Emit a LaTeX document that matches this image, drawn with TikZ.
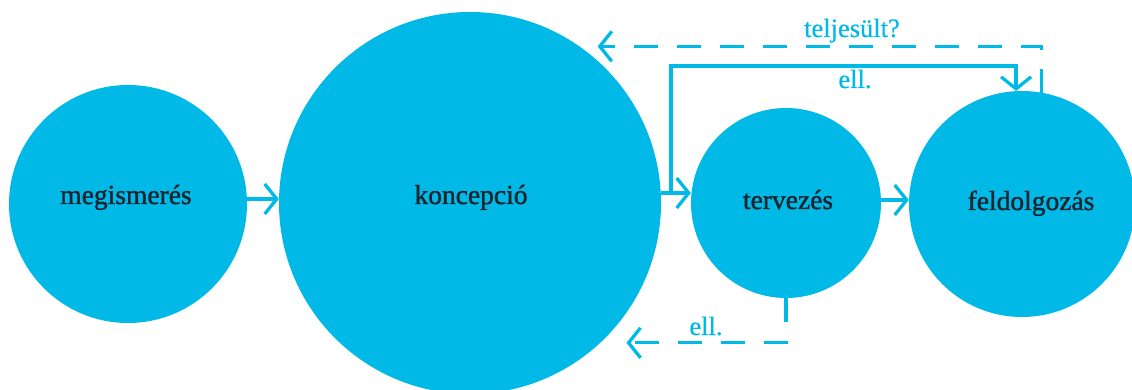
\documentclass[tikz,border=0pt]{standalone}
\usepackage{fontspec}
\setmainfont{Liberation Serif}
\newfontfamily\heavyserif[FakeBold=1.2]{Liberation Serif}
\newfontfamily\midserif[FakeBold=0.6]{Liberation Serif}
\usetikzlibrary{arrows.meta,calc}
\definecolor{cy}{RGB}{0,185,230}
\definecolor{ink}{RGB}{24,36,46}
\begin{document}
\begin{tikzpicture}[x=1pt,y=-1pt,
  bub/.style={circle,fill=cy,draw=none,inner sep=0pt},
  ntext/.style={font=\heavyserif\fontsize{27.5}{30}\selectfont,text=ink,anchor=base,inner sep=0pt},
  ltext/.style={font=\midserif\fontsize{26.5}{30}\selectfont,text=cy,anchor=base,inner sep=0pt},
  conn/.style={draw=cy,line width=3.3pt,-{Straight Barb[length=12pt,width=30pt,line width=3.3pt]}},
  dconn/.style={conn,dash pattern=on 24pt off 19pt}]
\useasboundingbox (0,0) rectangle (1132,390);
% circles
\node[bub,minimum size=238pt] (m) at (128,204) {};
\node[bub,minimum size=382pt] (k) at (470,203) {};
\node[bub,minimum size=190pt] (t) at (786,203) {};
\node[bub,minimum size=226pt] (f) at (1022,204) {};
% circle texts
\node[ntext] (mt) at (126,204) {megismerés};
\node[ntext] (kt) at (471,204) {koncepció};
\node[ntext] (tt) at (788,209) {tervezés};
\node[ntext] (ft) at (1031,210) {feldolgozás};
% main flow
\draw[conn] ([yshift=5pt]m.east) -- ([yshift=4pt]k.west);
\draw[conn] ([yshift=10pt]k.east) -- ([yshift=10pt]t.west);
\draw[conn] ([yshift=3pt]t.east) -- ([yshift=4pt]f.west);
% solid feedback to feldolgozás
\coordinate (br) at (671,193);
\draw[conn] (br) |- (f.93 |- 0,66) -- (f.93);
\node[ltext] (l2) at (855,88) {ell.};
% dashed top: teljesült?
\draw[dconn,shorten >=18pt] (f.80) |- (k.55);
\node[ltext] (l1) at (852,37) {teljesült?};
% dashed bottom
\draw[dconn,shorten >=26pt] (t.south) |- (k.-47);
\node[ltext] (l3) at (706,335) {ell.};
\end{tikzpicture}
\end{document}
